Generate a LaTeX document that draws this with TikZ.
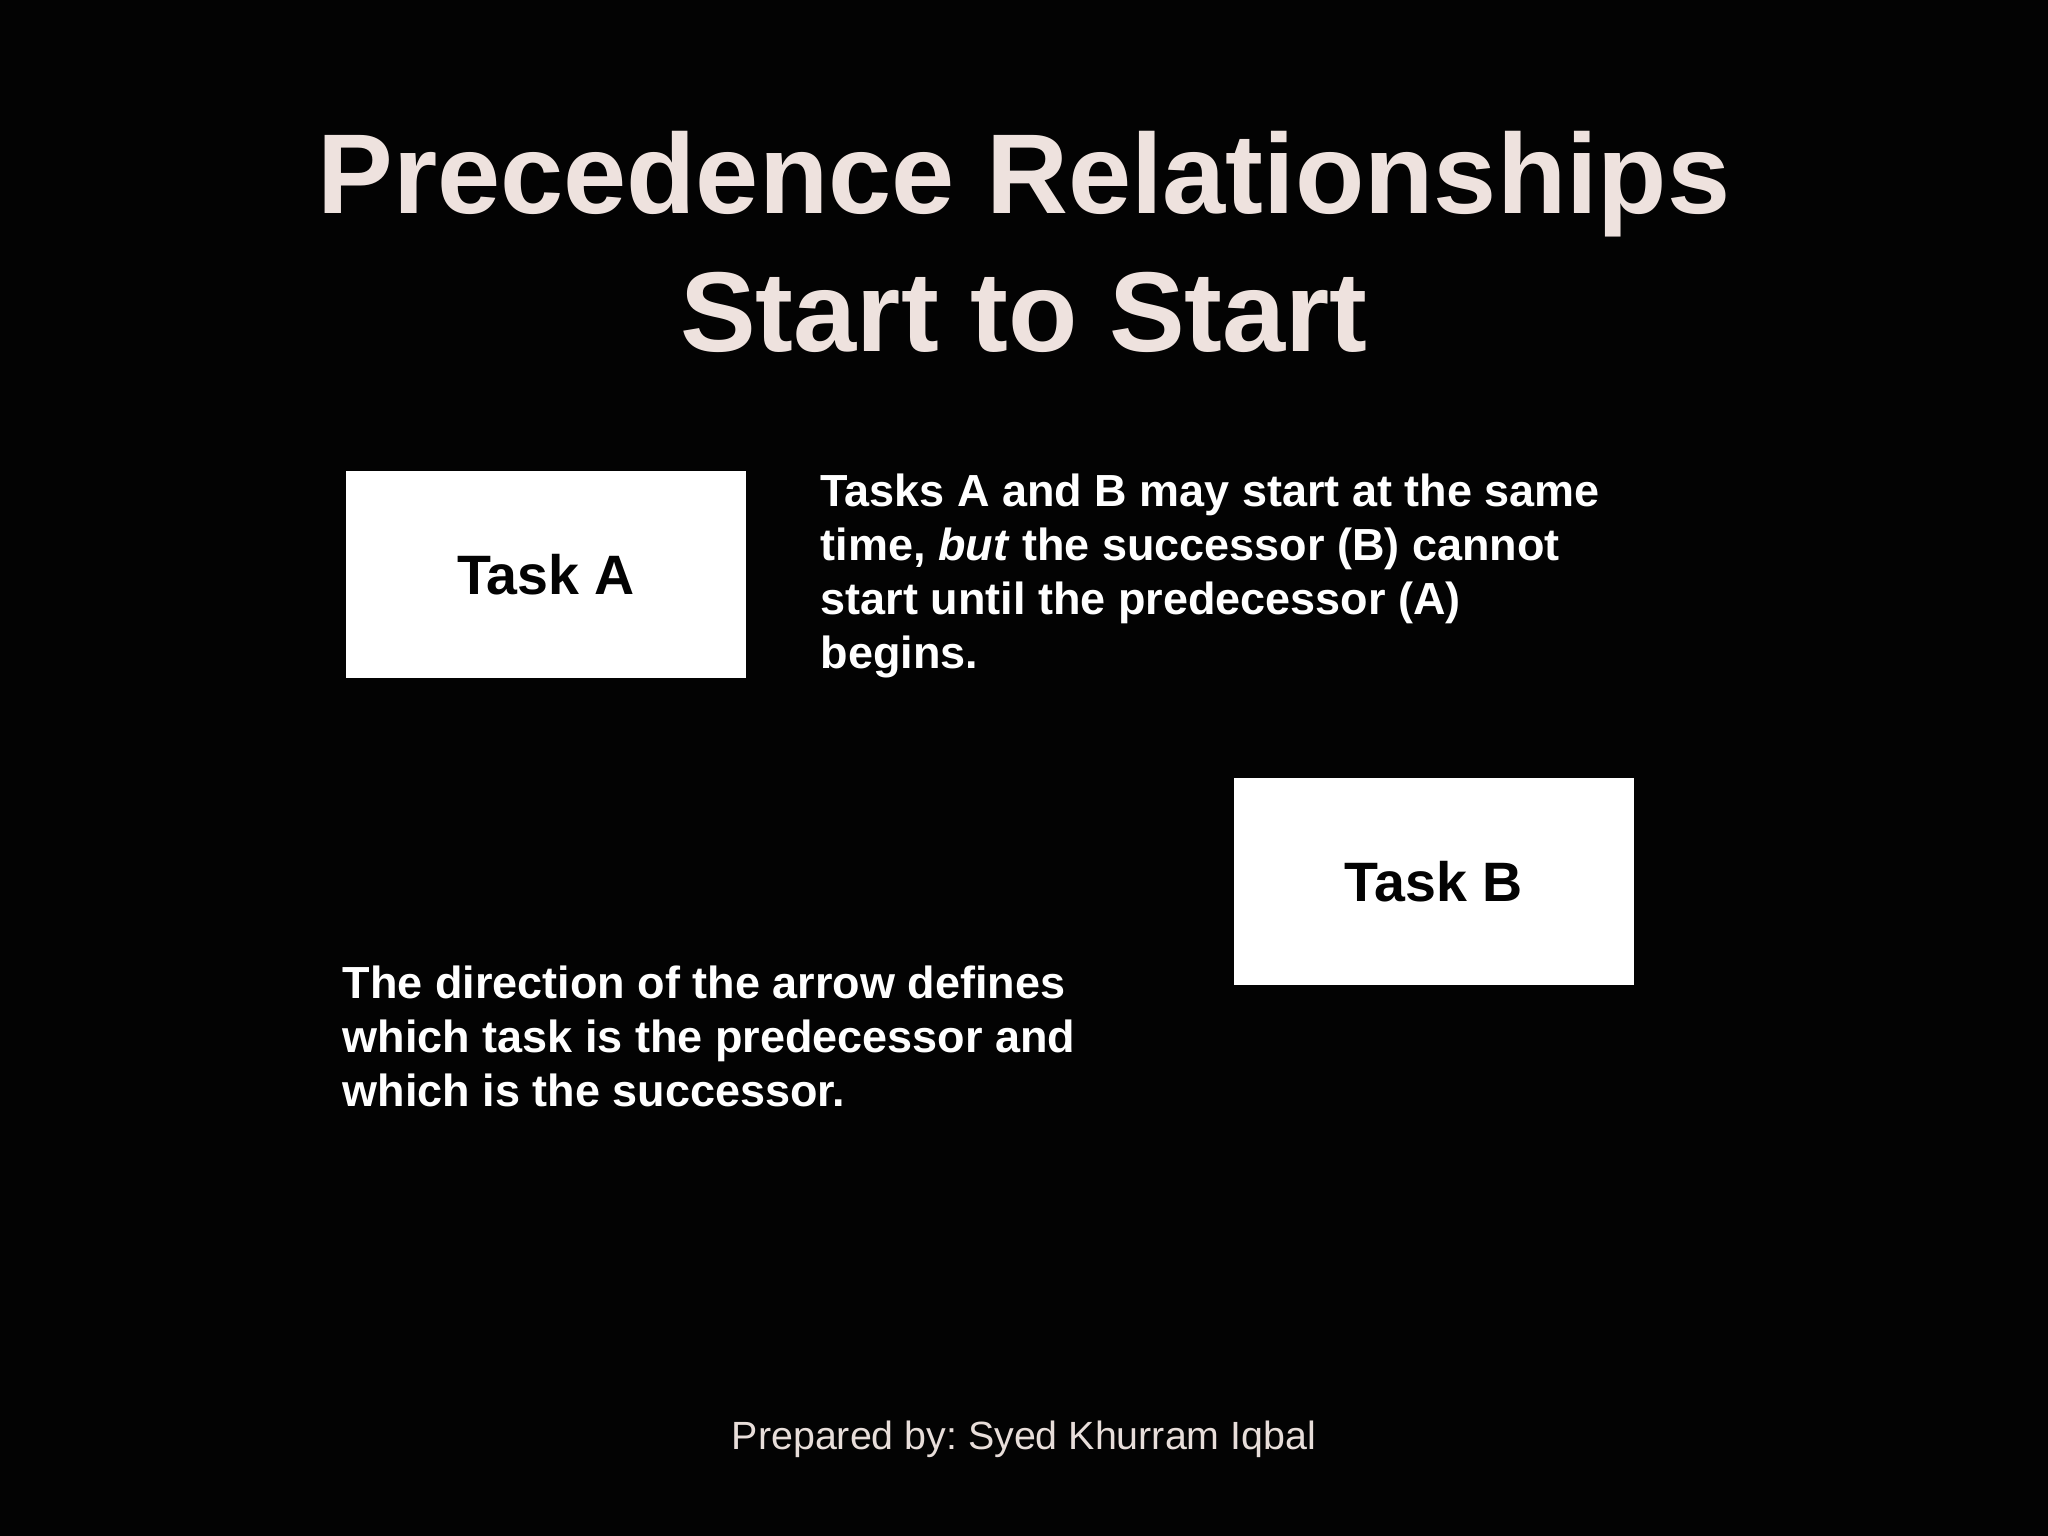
\documentclass[tikz,border=0pt]{standalone}
\usepackage{fontspec}
\setmainfont{Liberation Sans}
\usepackage{xcolor}
\usetikzlibrary{positioning}
\definecolor{SlideBlack}{RGB}{3, 3, 3}
\definecolor{SlideWhite}{RGB}{255, 255, 255}
\definecolor{TitlePink}{RGB}{238, 226, 222}
\definecolor{FooterPink}{RGB}{232, 222, 218}
\frenchspacing

\begin{document}
\begin{tikzpicture}[
    font=\bfseries,
    % Styles
    taskbox/.style={rectangle, draw=none, fill=SlideWhite, minimum width=4.0cm, minimum height=2.07cm, align=center, text=SlideBlack, font=\fontsize{15.8}{18}\selectfont\bfseries},
    bodytext/.style={inner sep=0pt, align=left, text=SlideWhite, font=\fontsize{12.8}{15.4}\selectfont\bfseries},
    titletext/.style={inner sep=0pt, align=center, text=TitlePink, font=\fontsize{32.3}{39}\selectfont\bfseries}
]

% Background
\fill[SlideBlack] (0,0) rectangle (20.48,15.36);

% ==========================================================================================
% TITLE
% ==========================================================================================
\node[titletext, anchor=north] (title) at (10.24,14.05) {Precedence Relationships\\Start to Start};

% ==========================================================================================
% TASKS
% ==========================================================================================

% Task A - White Fill
\node[taskbox] (task_a) at (5.46,9.615) {Task A};

% Task B - White Fill
\node[taskbox] (task_b) at (14.335,6.545) {Task B};

% Explanations
\node[bodytext, anchor=north west] (note_ss) at (8.20,10.63) {Tasks A and B may start at the same\\time, \textit{but} the successor (B) cannot\\start until the predecessor (A)\\begins.};
\node[bodytext, anchor=north west] (note_dir) at (3.42,5.71) {The direction of the arrow defines\\which task is the predecessor and\\which is the successor.};

% Footer
\node[inner sep=0pt, anchor=base, text=FooterPink, font=\fontsize{11.2}{13}\selectfont\mdseries] (footer) at (10.24,0.86) {Prepared by: Syed Khurram Iqbal};

\end{tikzpicture}
\end{document}
